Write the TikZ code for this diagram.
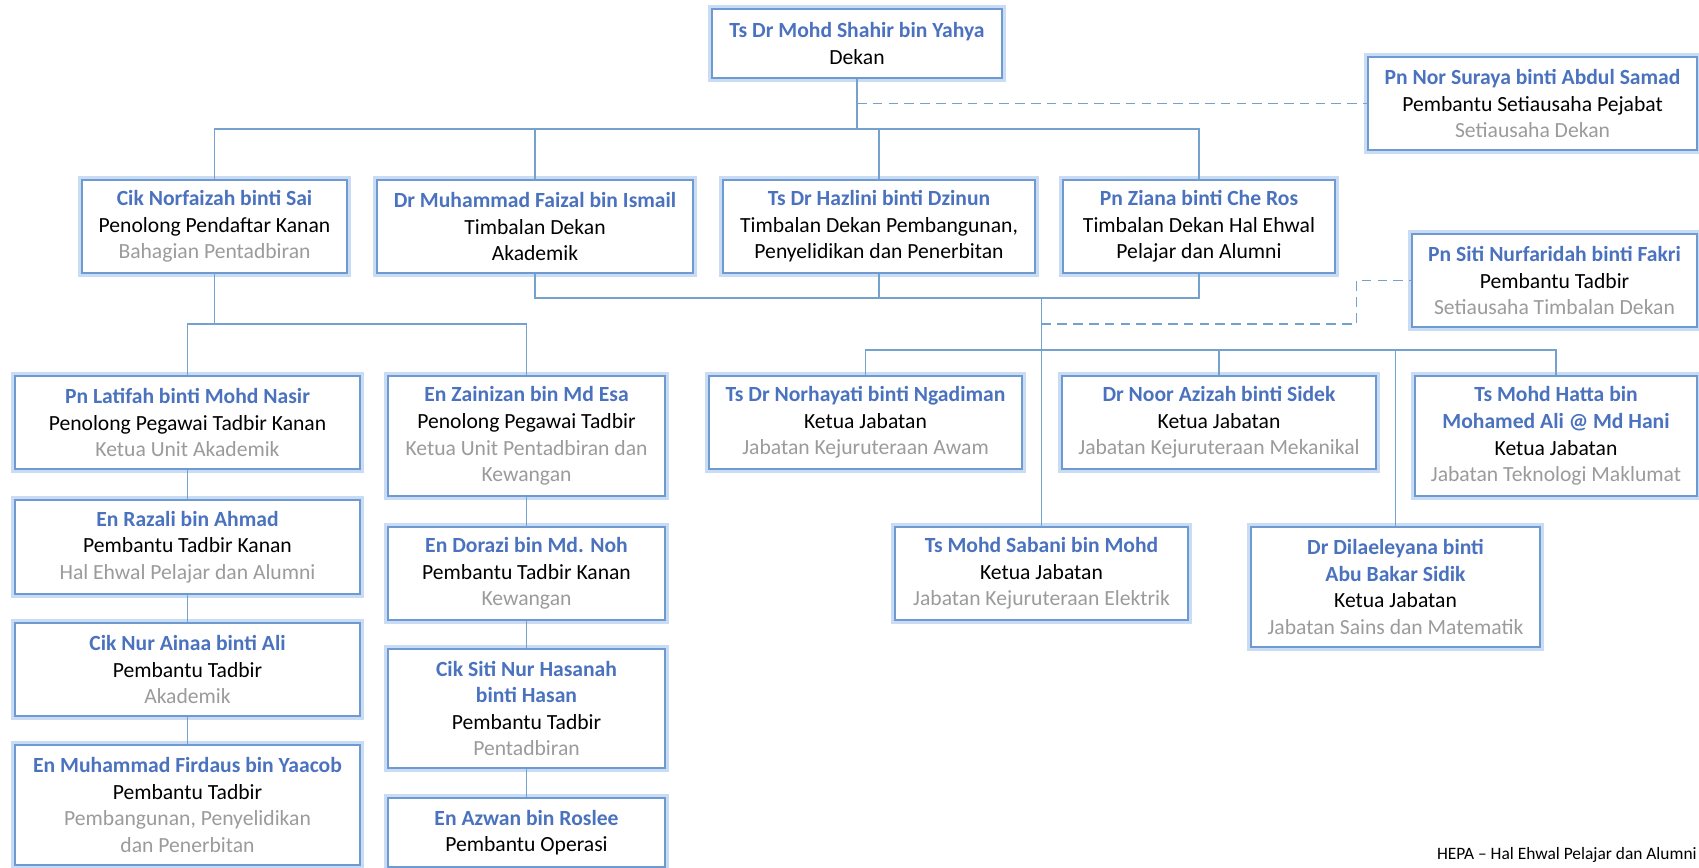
\documentclass[tikz,border=0pt]{standalone}
\usepackage{fontspec}
\setmainfont{Carlito}
\definecolor{biru}{HTML}{4A72BE}
\definecolor{tepi}{HTML}{6E9AD2}
\definecolor{cahaya}{HTML}{CADCF3}
\definecolor{garisan}{HTML}{74A2CF}
\definecolor{kelabu}{HTML}{9B9B9B}
\newcommand{\nama}[1]{\textbf{\color{biru}#1}}
\newcommand{\bhg}[1]{{\color{kelabu}#1}}

\begin{document}
\begin{tikzpicture}[x=0.02cm,y=-0.02cm,
    kotak/.style={draw=tepi,line width=1.1pt,fill=white,align=center,inner sep=0pt,
        preaction={draw=cahaya,line width=4.5pt},
        font=\fontsize{12.3}{15.1}\selectfont},
    garis/.style={draw=garisan,line width=1.1pt},
    garis putus/.style={garis,dash pattern=on 5.5pt off 3.5pt}]
    \useasboundingbox (0,0) rectangle (1699,867);
    \fill[white] (0,0) rectangle (1699,867);

    \node[kotak,minimum width=5.8cm,minimum height=1.38cm] (dekan) at (857,43.5)
        {\nama{Ts Dr Mohd Shahir bin Yahya}\\Dekan};
    \node[kotak,minimum width=6.58cm,minimum height=1.86cm] (suraya) at (1532.5,103.5)
        {\nama{Pn Nor Suraya binti Abdul Samad}\\Pembantu Setiausaha Pejabat\\\bhg{Setiausaha Dekan}};

    \node[kotak,minimum width=5.3cm,minimum height=1.86cm] (norfaizah) at (214.5,226.5)
        {\nama{Cik Norfaizah binti Sai}\\Penolong Pendaftar Kanan\\\bhg{Bahagian Pentadbiran}};
    \node[kotak,minimum width=6.32cm,minimum height=1.86cm] (faizal) at (535,226.5)
        {\nama{Dr Muhammad Faizal bin Ismail}\\Timbalan Dekan\\Akademik};
    \node[kotak,minimum width=6.24cm,minimum height=1.86cm] (hazlini) at (879,226.5)
        {\nama{Ts Dr Hazlini binti Dzinun}\\Timbalan Dekan Pembangunan,\\Penyelidikan dan Penerbitan};
    \node[kotak,minimum width=5.44cm,minimum height=1.86cm] (ziana) at (1199,226.5)
        {\nama{Pn Ziana binti Che Ros}\\Timbalan Dekan Hal Ehwal\\Pelajar dan Alumni};
    \node[kotak,minimum width=5.7cm,minimum height=1.86cm] (siti) at (1554.5,280.5)
        {\nama{Pn Siti Nurfaridah binti Fakri}\\Pembantu Tadbir\\\bhg{Setiausaha Timbalan Dekan}};

    \node[kotak,minimum width=6.9cm,minimum height=1.86cm] (latifah) at (187.5,422.5)
        {\nama{Pn Latifah binti Mohd Nasir}\\Penolong Pegawai Tadbir Kanan\\\bhg{Ketua Unit Akademik}};
    \node[kotak,minimum width=6.9cm,minimum height=1.88cm] (razali) at (187.5,547)
        {\nama{En Razali bin Ahmad}\\Pembantu Tadbir Kanan\\\bhg{Hal Ehwal Pelajar dan Alumni}};
    \node[kotak,minimum width=6.9cm,minimum height=1.86cm] (ainaa) at (187.5,669.5)
        {\nama{Cik Nur Ainaa binti Ali}\\Pembantu Tadbir\\\bhg{Akademik}};
    \node[kotak,minimum width=6.9cm,minimum height=2.4cm] (firdaus) at (187.5,805)
        {\nama{En Muhammad Firdaus bin Yaacob}\\Pembantu Tadbir\\\bhg{Pembangunan, Penyelidikan}\\\bhg{dan Penerbitan}};

    \node[kotak,minimum width=5.54cm,minimum height=2.4cm] (zainizan) at (526.5,436)
        {\nama{En Zainizan bin Md Esa}\\Penolong Pegawai Tadbir\\\bhg{Ketua Unit Pentadbiran dan}\\\bhg{Kewangan}};
    \node[kotak,minimum width=5.54cm,minimum height=1.86cm] (dorazi) at (526.5,573.5)
        {\nama{En Dorazi bin Md. Noh}\\Pembantu Tadbir Kanan\\\bhg{Kewangan}};
    \node[kotak,minimum width=5.54cm,minimum height=2.38cm] (hasanah) at (526.5,708.5)
        {\nama{Cik Siti Nur Hasanah}\\\nama{binti Hasan}\\Pembantu Tadbir\\\bhg{Pentadbiran}};
    \node[kotak,minimum width=5.54cm,minimum height=1.38cm] (azwan) at (526.5,832.5)
        {\nama{En Azwan bin Roslee}\\Pembantu Operasi};

    \node[kotak,minimum width=6.26cm,minimum height=1.86cm] (norhayati) at (865.5,422.5)
        {\nama{Ts Dr Norhayati binti Ngadiman}\\Ketua Jabatan\\\bhg{Jabatan Kejuruteraan Awam}};
    \node[kotak,minimum width=6.28cm,minimum height=1.86cm] (azizah) at (1219,422.5)
        {\nama{Dr Noor Azizah binti Sidek}\\Ketua Jabatan\\\bhg{Jabatan Kejuruteraan Mekanikal}};
    \node[kotak,minimum width=5.64cm,minimum height=2.4cm] (hatta) at (1556,436)
        {\nama{Ts Mohd Hatta bin}\\\nama{Mohamed Ali @ Md Hani}\\Ketua Jabatan\\\bhg{Jabatan Teknologi Maklumat}};
    \node[kotak,minimum width=5.86cm,minimum height=1.86cm] (sabani) at (1041.5,573.5)
        {\nama{Ts Mohd Sabani bin Mohd}\\Ketua Jabatan\\\bhg{Jabatan Kejuruteraan Elektrik}};
    \node[kotak,minimum width=5.78cm,minimum height=2.4cm] (dila) at (1395.5,587)
        {\nama{Dr Dilaeleyana binti}\\\nama{Abu Bakar Sidik}\\Ketua Jabatan\\\bhg{Jabatan Sains dan Matematik}};

    \node[anchor=base east,inner sep=0pt,font=\fontsize{9.9}{12}\selectfont] (nota) at (1697,859)
        {HEPA – Hal Ehwal Pelajar dan Alumni};

    \coordinate (busA) at (857,129);
    \coordinate (busB) at (214.5,324);
    \coordinate (busC) at (1041.5,298);
    \coordinate (busD) at (1041.5,350);
    \coordinate (sambung) at (1356.5,324);

    \draw[garis] (dekan.south) -- (busA);
    \draw[garis] (norfaizah.north) |- (busA) -| (ziana.north);
    \draw[garis] (faizal.north) -- (faizal.north |- busA);
    \draw[garis] (hazlini.north) -- (hazlini.north |- busA);
    \draw[garis putus] (dekan.south |- suraya.west) -- (suraya.west);

    \draw[garis] (norfaizah.south) -- (norfaizah.south |- busB);
    \draw[garis] (latifah.north) |- (busB) -| (zainizan.north);
    \draw[garis] (latifah.south) -- (razali.north);
    \draw[garis] (razali.south) -- (ainaa.north);
    \draw[garis] (ainaa.south) -- (firdaus.north);
    \draw[garis] (zainizan.south) -- (dorazi.north);
    \draw[garis] (dorazi.south) -- (hasanah.north);
    \draw[garis] (hasanah.south) -- (azwan.north);

    \draw[garis] (faizal.south) |- (busC) -| (ziana.south);
    \draw[garis] (hazlini.south) -- (hazlini.south |- busC);
    \draw[garis] (busC) -- (sabani.north);
    \draw[garis] (norhayati.north) |- (busD) -| (hatta.north);
    \draw[garis] (azizah.north) -- (azizah.north |- busD);
    \draw[garis] (dila.north) -- (dila.north |- busD);
    \draw[garis putus] (busC |- sambung) -- (sambung) |- (siti.west);
\end{tikzpicture}
\end{document}
